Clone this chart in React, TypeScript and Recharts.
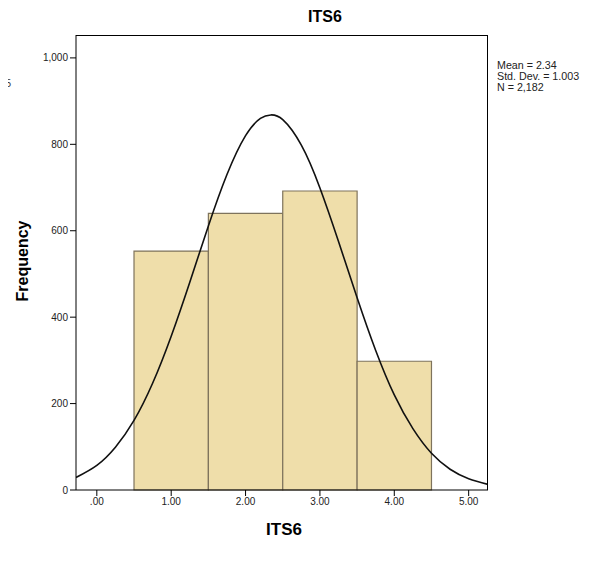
import { ComposedChart, Line, XAxis, YAxis, ReferenceArea } from 'recharts';

const binStarts = [0.5, 1.5, 2.5, 3.5];
const binEnds = [1.5, 2.5, 3.5, 4.5];
const binCounts = [553, 640, 692, 298];

const curveX = [-0.28, 0, 0.25, 0.5, 0.75, 1, 1.25, 1.5, 1.75, 2, 2.2, 2.34, 2.5, 2.75, 3, 3.25, 3.5, 3.75, 4, 4.25, 4.5, 4.75, 5, 5.26];
const curveY = [29, 57, 99, 161, 247, 356, 481, 611, 730, 820, 860, 868, 857, 798, 699, 575, 445, 323, 220, 142, 85, 48, 26, 13];

const xTicks = [0, 1, 2, 3, 4, 5];
const yTicks = [0, 200, 400, 600, 800, 1000];

const statLines = ['Mean = 2.34', 'Std. Dev. = 1.003', 'N = 2,182'];

const FONT = '"Liberation Sans", Arial, sans-serif';

export default function App() {
  const curveData = curveX.map((x, i) => ({ x, y: curveY[i] }));

  return (
    <div style={{ position: 'relative', width: 589, height: 555, background: '#fff', fontFamily: FONT }}>
      <ComposedChart
        width={580}
        height={550}
        data={curveData}
        margin={{ top: 27, right: 100, bottom: 38, left: 8 }}
      >
        <XAxis
          dataKey="x"
          type="number"
          domain={[-0.28, 5.26]}
          ticks={xTicks}
          allowDataOverflow
          height={30}
          tickSize={6}
          stroke="#000"
          tick={{ fill: '#222', fontSize: 10, fontFamily: FONT }}
          tickFormatter={(v: number) => (v === 0 ? '.00' : v.toFixed(2))}
        />
        <YAxis
          type="number"
          domain={[0, 1053]}
          ticks={yTicks}
          allowDataOverflow
          width={60}
          tickSize={6}
          stroke="#000"
          tick={{ fill: '#222', fontSize: 10, fontFamily: FONT }}
          tickFormatter={(v: number) => v.toLocaleString('en-US')}
        />
        {binCounts.map((c, i) => (
          <ReferenceArea
            key={i}
            x1={binStarts[i]}
            x2={binEnds[i]}
            y1={0}
            y2={c}
            fill="#efdeaa"
            fillOpacity={1}
            stroke="#7e735c"
            strokeWidth={1.2}
          />
        ))}
        <Line
          dataKey="y"
          type="natural"
          stroke="#111"
          strokeWidth={1.6}
          dot={false}
          isAnimationActive={false}
        />
      </ComposedChart>

      {/* top and right frame lines */}
      <div style={{ position: 'absolute', left: 68, top: 27, width: 412, height: 455, borderTop: '1px solid #000', borderRight: '1.5px solid #000', boxSizing: 'border-box', pointerEvents: 'none' }} />

      <div style={{ position: 'absolute', left: 0, top: 0, width: 634, textAlign: 'center', fontWeight: 'bold', fontSize: 16 }}>ITS6</div>
      <div style={{ position: 'absolute', left: 68, top: 512, width: 416, textAlign: 'center', fontWeight: 'bold', fontSize: 17 }}>ITS6</div>
      <div style={{ position: 'absolute', left: 14.5, top: 253, transform: 'translate(-50%, -50%) rotate(-90deg)', fontWeight: 'bold', fontSize: 16, whiteSpace: 'nowrap' }}>Frequency</div>
      <div style={{ position: 'absolute', left: -8, top: 70, fontSize: 10, color: '#333' }}>95</div>

      <div style={{ position: 'absolute', left: 489, top: 52, fontSize: 10.7, lineHeight: '11px', color: '#222', whiteSpace: 'nowrap' }}>
        {statLines.map(s => (
          <div key={s}>{s}</div>
        ))}
      </div>
    </div>
  );
}
